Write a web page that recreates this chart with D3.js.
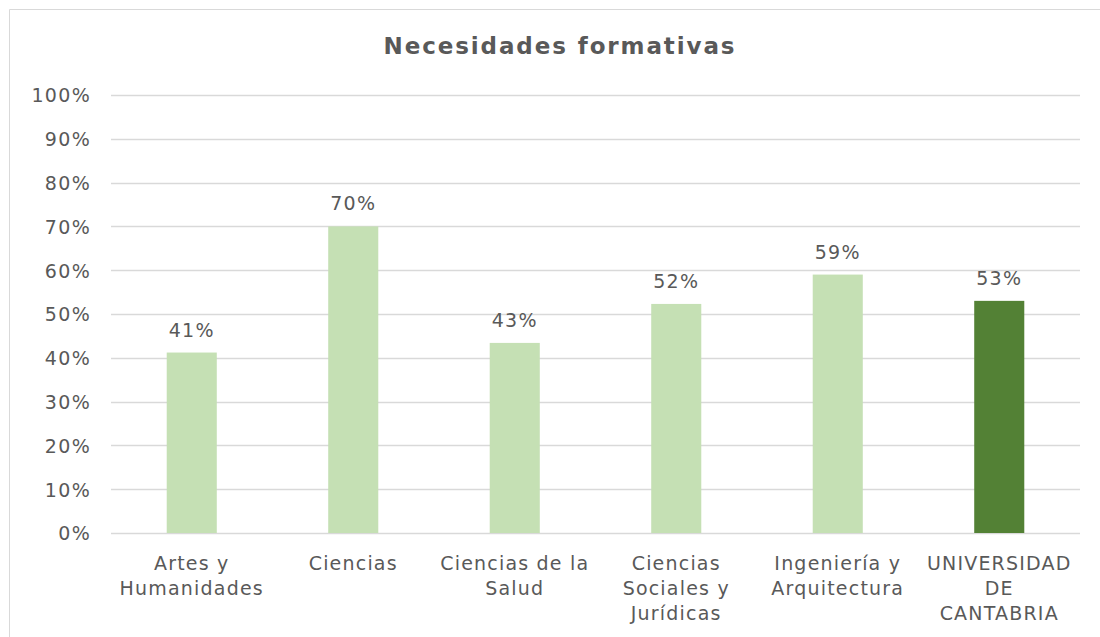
<!DOCTYPE html>
<html>
<head>
<meta charset="utf-8">
<script src="https://cdn.jsdelivr.net/npm/d3@7"></script>
<style>
  body { margin: 0; background: #fff; }
  text { font-family: "DejaVu Sans", Verdana, sans-serif; fill: #595959; }
</style>
</head>
<body>
<div id="chart"></div>
<script>
// --- data ---
const categories = ["Artes y Humanidades", "Ciencias", "Ciencias de la Salud",
  "Ciencias Sociales y Jurídicas", "Ingeniería y Arquitectura", "UNIVERSIDAD DE CANTABRIA"];
const catLines = [["Artes y", "Humanidades"], ["Ciencias"], ["Ciencias de la", "Salud"],
  ["Ciencias", "Sociales y", "Jurídicas"], ["Ingeniería y", "Arquitectura"], ["UNIVERSIDAD", "DE", "CANTABRIA"]];
const values = [0.412, 0.70, 0.434, 0.523, 0.59, 0.53];
const valueLabels = ["41%", "70%", "43%", "52%", "59%", "53%"];
const yTicks = [0, 0.1, 0.2, 0.3, 0.4, 0.5, 0.6, 0.7, 0.8, 0.9, 1.0];
const titleText = "Necesidades formativas";

const width = 1100, height = 637;
const margin = {left: 111, right: 20, top: 95, bottom: 104};

const svg = d3.select("#chart").append("svg")
  .attr("width", width).attr("height", height);

// outer frame (top and left edges visible)
svg.append("path")
  .attr("d", "M9.5," + height + " V9.5 H" + width)
  .attr("fill", "none").attr("stroke", "#d9d9d9").attr("stroke-width", 1);

svg.append("text")
  .attr("x", 560).attr("y", 54)
  .attr("text-anchor", "middle")
  .style("font-size", "23px").style("font-weight", "bold")
  .style("letter-spacing", "1.9px")
  .text(titleText);

let x = d3.scaleBand()
  .domain(categories)
  .range([margin.left, width - margin.right])
  .paddingInner(0.69).paddingOuter(0.345);

let y = d3.scaleLinear()
  .domain([0, 1])
  .range([height - margin.bottom, margin.top]);

// gridlines
svg.append("g").selectAll("line").data(yTicks).enter()
  .append("line")
  .attr("x1", margin.left).attr("x2", width - margin.right)
  .attr("y1", d => Math.round(y(d)) + 0.5).attr("y2", d => Math.round(y(d)) + 0.5)
  .attr("stroke", "#d9d9d9").attr("stroke-width", 1.5);

// y axis labels
let yAxis = svg.append("g")
  .attr("transform", "translate(" + (margin.left - 20) + ",0)")
  .call(d3.axisLeft(y).tickValues(yTicks).tickSize(0).tickFormat(d3.format(".0%")));
yAxis.select(".domain").remove();
yAxis.selectAll("text")
  .attr("x", 0).attr("dy", "0.36em")
  .style("font-size", "19px").style("letter-spacing", "1.3px")
  .style("font-family", "'DejaVu Sans', Verdana, sans-serif")
  .attr("fill", "#595959");

// bars
svg.append("g").selectAll("rect").data(values).enter()
  .append("rect")
  .attr("x", (d, i) => x(categories[i]))
  .attr("width", x.bandwidth())
  .attr("y", d => y(d))
  .attr("height", d => y(0) - y(d))
  .attr("fill", (d, i) => i === categories.length - 1 ? "#538135" : "#c5e0b4");

// value labels
svg.append("g").selectAll("text").data(values).enter()
  .append("text")
  .attr("x", (d, i) => x(categories[i]) + x.bandwidth() / 2)
  .attr("y", d => y(d) - 16)
  .attr("text-anchor", "middle")
  .style("font-size", "19px").style("letter-spacing", "1.3px")
  .text((d, i) => valueLabels[i]);

// category labels
let xAxis = svg.append("g");
categories.forEach(function(c, i) {
  let t = xAxis.append("text")
    .attr("x", x(c) + x.bandwidth() / 2)
    .attr("y", y(0) + 37)
    .attr("text-anchor", "middle")
    .style("font-size", "19px").style("letter-spacing", "1.2px");
  catLines[i].forEach(function(line, j) {
    t.append("tspan")
      .attr("x", x(c) + x.bandwidth() / 2)
      .attr("dy", j === 0 ? 0 : 25)
      .text(line);
  });
});
</script>
</body>
</html>
